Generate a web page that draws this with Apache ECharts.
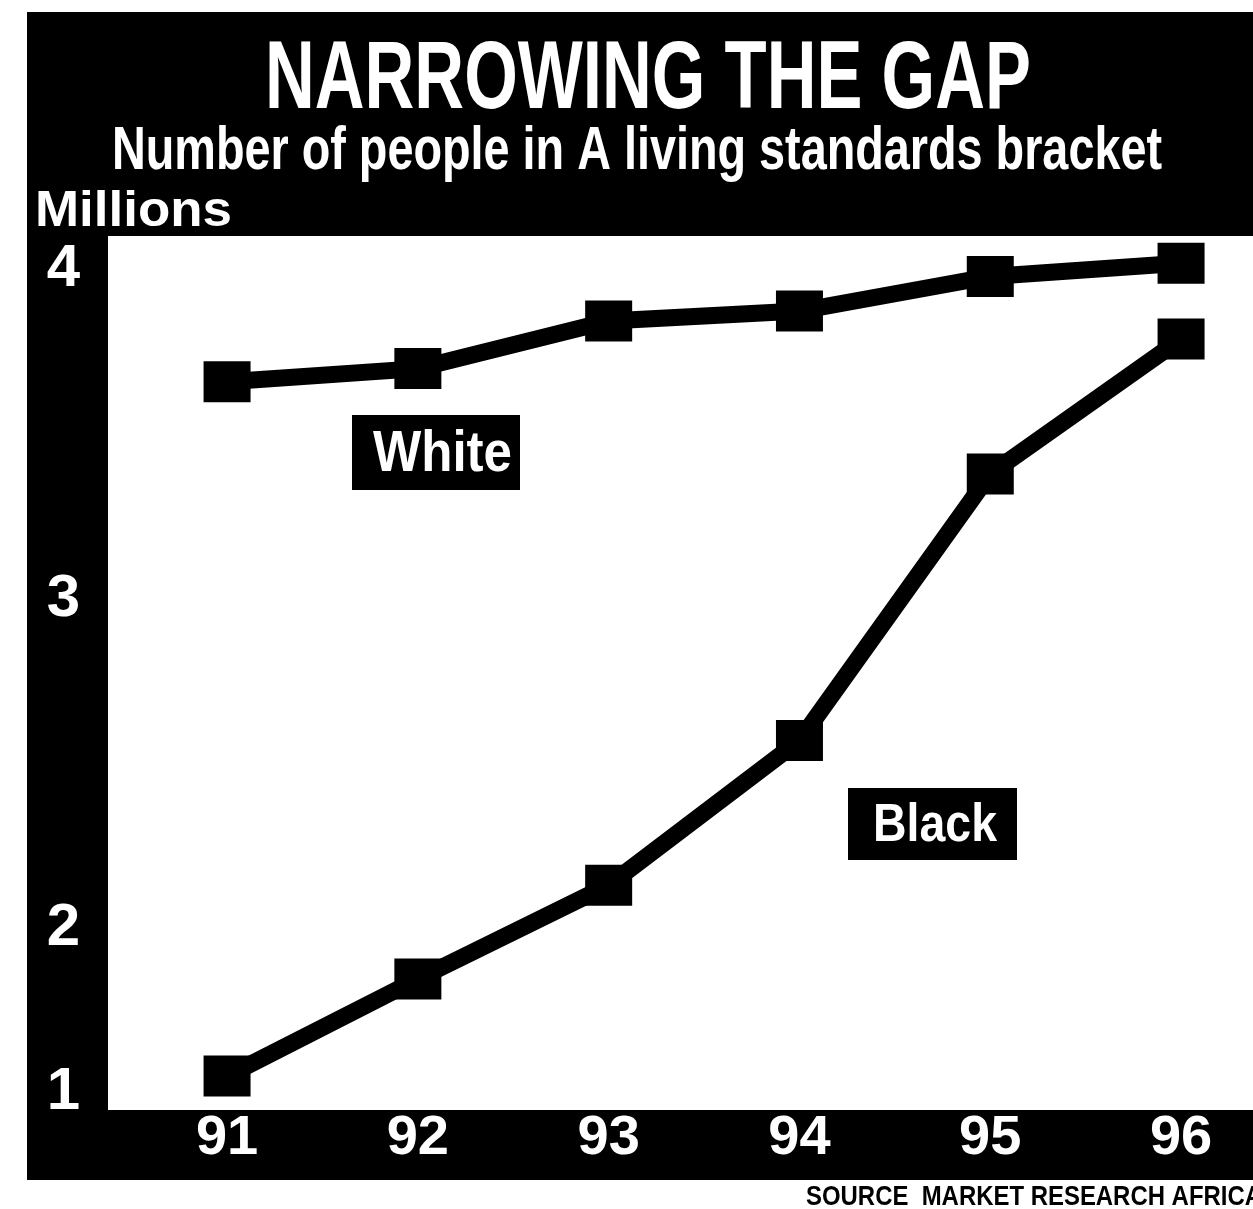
<!DOCTYPE html>
<html>
<head>
<meta charset="utf-8">
<title>Narrowing the gap</title>
<script src="https://cdn.jsdelivr.net/npm/echarts@6/dist/echarts.min.js"></script>
<style>
  html, body { margin: 0; padding: 0; background: #ffffff; }
  #chart { width: 1253px; height: 1209px; }
</style>
</head>
<body>
<div id="chart"></div>
<script>
// Number of people in the A living standards bracket, millions
const years = [91, 92, 93, 94, 95, 96];
const yearLabels = ['91', '92', '93', '94', '95', '96'];
const whitePeople = [3.66, 3.70, 3.845, 3.875, 3.98, 4.02];
const blackPeople = [1.10, 1.69, 2.13, 2.57, 3.38, 3.79];
const yTickValues = [1, 2, 3, 4];
const yTickLabels = ['1', '2', '3', '4'];

// The value scale is broken below 2: the 1–2 segment is drawn at half height.
const BREAK_AT = 2;
const LOWER_SCALE = 0.5;
function toAxis(v) { return v >= BREAK_AT ? v : BREAK_AT - (BREAK_AT - v) * LOWER_SCALE; }

const FONT_FAMILY = "'Liberation Sans Narrow', 'Liberation Sans', Arial, sans-serif";

// Width of a string in a given font, used to squeeze text into a condensed headline look.
const measureCtx = document.createElement('canvas').getContext('2d');
function textWidth(text, size) {
  measureCtx.font = 'bold ' + size + 'px ' + FONT_FAMILY;
  return measureCtx.measureText(text).width;
}

// A horizontally squeezed text element: left edge x, vertical centre y, target width w.
function squeezedText(text, x, y, size, w, color, z) {
  return {
    type: 'text',
    x: x,
    y: y,
    scaleX: w / textWidth(text, size),
    z: z || 50,
    style: {
      text: text,
      x: 0,
      y: 0,
      fill: color,
      font: 'bold ' + size + 'px ' + FONT_FAMILY,
      align: 'left',
      verticalAlign: 'middle'
    }
  };
}

// A series name set in white on a black tag.
function nameTag(text, x, y, w, h, size, textX, textW) {
  return {
    type: 'group',
    z: 60,
    children: [
      { type: 'rect', z: 60, shape: { x: x, y: y, width: w, height: h }, style: { fill: '#000000' } },
      squeezedText(text, textX, y + h / 2 + 2, size, textW, '#ffffff', 61)
    ]
  };
}

const chart = echarts.init(document.getElementById('chart'), null, { renderer: 'canvas' });

const seriesStyle = {
  type: 'line',
  symbol: 'rect',
  symbolSize: [47, 41],
  showSymbol: true,
  lineStyle: { color: '#000000', width: 17, join: 'miter' },
  itemStyle: { color: '#000000', borderWidth: 0 },
  emphasis: { disabled: true },
  z: 5
};

chart.setOption({
  animation: false,
  backgroundColor: '#ffffff',
  grid: {
    left: 108,
    right: 0,
    top: 236,
    bottom: 99,
    show: true,
    backgroundColor: '#ffffff',
    borderWidth: 0,
    outerBoundsMode: 'none',
    containLabel: false
  },
  xAxis: {
    type: 'value',
    min: 90.376,
    max: 96.377,
    axisLine: { show: false },
    axisTick: { show: false },
    splitLine: { show: false },
    axisLabel: {
      customValues: years,
      formatter: function (v) {
        const i = years.indexOf(Math.round(v));
        return i >= 0 ? yearLabels[i] : '';
      },
      color: '#ffffff',
      fontFamily: FONT_FAMILY,
      fontWeight: 'bold',
      fontSize: 56,
      margin: 1
    }
  },
  yAxis: {
    type: 'value',
    min: 1.447,
    max: 4.103,
    axisLine: { show: false },
    axisTick: { show: false },
    splitLine: { show: false },
    axisLabel: {
      customValues: yTickValues.map(toAxis),
      formatter: function (v) {
        for (let i = 0; i < yTickValues.length; i++) {
          if (Math.abs(toAxis(yTickValues[i]) - v) < 1e-6) return yTickLabels[i];
        }
        return '';
      },
      color: '#ffffff',
      fontFamily: FONT_FAMILY,
      fontWeight: 'bold',
      fontSize: 60,
      margin: 28
    }
  },
  graphic: [
    // black panel behind headline, axes and tick labels
    { type: 'rect', z: -10, shape: { x: 27, y: 12, width: 1240, height: 1168 }, style: { fill: '#000000' } },
    squeezedText('NARROWING THE GAP', 265, 82, 96, 766, '#ffffff'),
    squeezedText('Number of people in A living standards bracket', 112, 152, 62, 1050, '#ffffff'),
    squeezedText('Millions', 35, 212, 50, 197, '#ffffff'),
    squeezedText('SOURCE  MARKET RESEARCH AFRICA', 806, 1197, 28, 456, '#000000'),
    nameTag('White', 352, 415, 168, 75, 58, 373, 139),
    nameTag('Black', 848, 788, 169, 72, 54, 873, 124)
  ],
  series: [
    Object.assign({}, seriesStyle, {
      name: 'White',
      data: years.map(function (y, i) { return [y, toAxis(whitePeople[i])]; })
    }),
    Object.assign({}, seriesStyle, {
      name: 'Black',
      data: years.map(function (y, i) { return [y, toAxis(blackPeople[i])]; })
    })
  ]
});
</script>
</body>
</html>
